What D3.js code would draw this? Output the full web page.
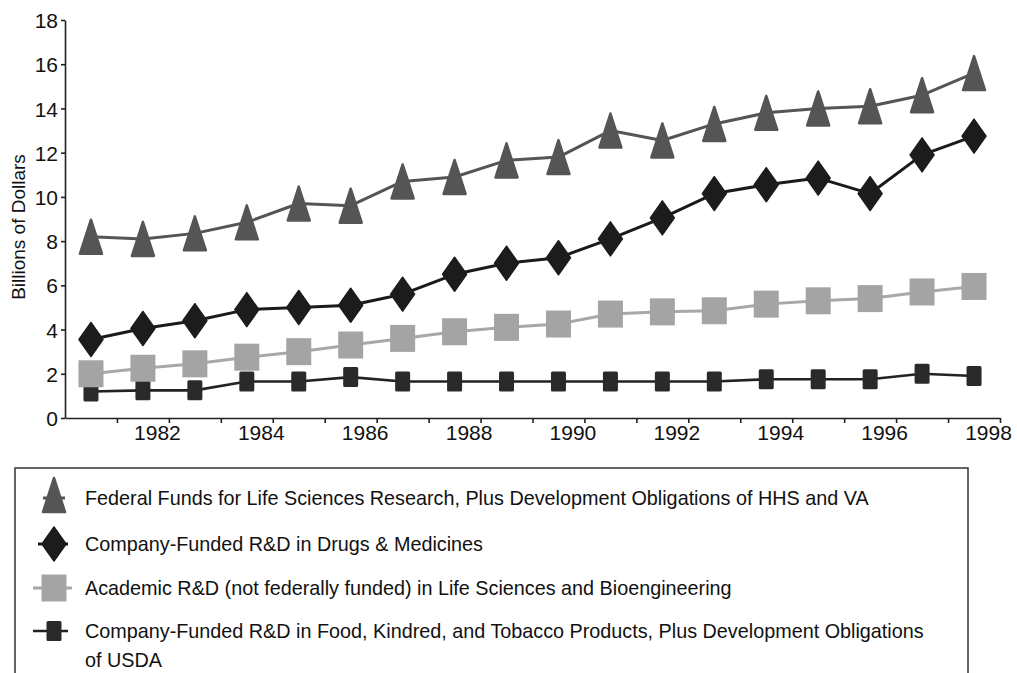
<!DOCTYPE html>
<html>
<head>
<meta charset="utf-8">
<script src="https://cdn.jsdelivr.net/npm/d3@7"></script>
<style>
  html, body { margin: 0; padding: 0; background: #fff; }
  svg { display: block; font-family: "Liberation Sans", Arial, Helvetica, sans-serif; }
  .axis text { font-size: 21px; fill: #111; }
  .axis path, .axis line { stroke: #222; stroke-width: 1.6; }
  .legend-text { font-size: 19.8px; fill: #111; }
</style>
</head>
<body>
<svg id="chart" width="1017" height="673"></svg>
<script>
// years the values belong to (plotted in the middle of each year slot)
const years = [1981, 1982, 1983, 1984, 1985, 1986, 1987, 1988, 1989, 1990, 1991, 1992, 1993, 1994, 1995, 1996, 1997, 1998];

// billions of dollars
const federalFunds = [8.2, 8.1, 8.35, 8.85, 9.7, 9.6, 10.7, 10.9, 11.65, 11.8, 13.0, 12.55, 13.3, 13.8, 14.0, 14.1, 14.6, 15.6];
const drugsMedicines = [3.55, 4.05, 4.4, 4.9, 5.0, 5.1, 5.6, 6.5, 7.0, 7.25, 8.1, 9.05, 10.15, 10.55, 10.85, 10.15, 11.9, 12.75];
const academicRD = [2.0, 2.25, 2.45, 2.75, 3.0, 3.3, 3.6, 3.9, 4.1, 4.25, 4.7, 4.8, 4.85, 5.15, 5.3, 5.4, 5.7, 5.95];
const foodTobacco = [1.2, 1.25, 1.25, 1.65, 1.65, 1.85, 1.65, 1.65, 1.65, 1.65, 1.65, 1.65, 1.65, 1.75, 1.75, 1.75, 2.0, 1.9];

const yTicks = [0, 2, 4, 6, 8, 10, 12, 14, 16, 18];
const xTickYears = [1981, 1982, 1983, 1984, 1985, 1986, 1987, 1988, 1989, 1990, 1991, 1992, 1993, 1994, 1995, 1996, 1997, 1998];

const legendLabels = [
    ["Federal Funds for Life Sciences Research, Plus Development Obligations of HHS and VA"],
    ["Company-Funded R&D in Drugs & Medicines"],
    ["Academic R&D (not federally funded) in Life Sciences and Bioengineering"],
    ["Company-Funded R&D in Food, Kindred, and Tobacco Products, Plus Development Obligations", "of USDA"]
];

const config = {
    plot: { left: 65, right: 1000, top: 20, bottom: 418 },
    colors: { federal: "#555555", drugs: "#1c1c1c", academic: "#a4a4a4", food: "#2a2a2a" }
};

const symbols = {
    triangle: "M0,-17 L11,17 L-11,17 Z",
    diamond: "M0,-17 L12,0 L0,17 L-12,0 Z",
    bigSquare: "M-12.5,-13.5 L12.5,-13.5 L12.5,13.5 L-12.5,13.5 Z",
    smallSquare: "M-6,-8.5 L6,-8.5 L6,8.5 L-6,8.5 Z"
};

const series = [
    { values: foodTobacco, color: config.colors.food, line: "#222", width: 2.6, shape: "smallSquare", round: 3, legendLine: [33, 68] },
    { values: academicRD, color: config.colors.academic, line: "#a8a8a8", width: 3, shape: "bigSquare", round: 0, legendLine: [33, 72] },
    { values: drugsMedicines, color: config.colors.drugs, line: "#1a1a1a", width: 3, shape: "diamond", round: 1.5, legendLine: [38, 68] },
    { values: federalFunds, color: config.colors.federal, line: "#555", width: 3, shape: "triangle", round: 2.5, legendLine: [43, 65] }
];

const svg = d3.select("#chart");

const x = d3.scaleLinear().domain([1980, 1998]).range([config.plot.left, config.plot.right]);
const y = d3.scaleLinear().domain([0, 18]).range([config.plot.bottom, config.plot.top]);

// axes
svg.append("g").attr("class", "axis").attr("transform", `translate(${config.plot.left},0)`)
    .call(d3.axisLeft(y).tickValues(yTicks).tickSize(4).tickSizeOuter(0).tickPadding(3))
    .call(g => g.selectAll("text").attr("dy", "0.36em"));

svg.append("g").attr("class", "axis").attr("transform", `translate(0,${config.plot.bottom})`)
    .call(d3.axisBottom(x).tickValues(xTickYears).tickSize(5).tickSizeOuter(0).tickPadding(2)
        .tickFormat(d => d % 2 === 0 ? d : ""))
    .call(g => g.selectAll("text").attr("dx", -12));

svg.append("text")
    .attr("transform", `translate(25,${(config.plot.top + config.plot.bottom) / 2 + 8}) rotate(-90)`)
    .attr("text-anchor", "middle").style("font-size", "19px").attr("fill", "#111")
    .text("Billions of Dollars");

// lines + markers
const line = d3.line().x((d, i) => x(years[i] - 0.5)).y(d => y(d));

series.forEach(s => {
    svg.append("path").datum(s.values)
        .attr("d", line).attr("fill", "none")
        .attr("stroke", s.line).attr("stroke-width", s.width).attr("stroke-linejoin", "round");

    svg.append("g").selectAll("path").data(s.values).enter().append("path")
        .attr("d", symbols[s.shape])
        .attr("transform", (d, i) => `translate(${x(years[i] - 0.5)},${y(d)})`)
        .attr("fill", s.color)
        .attr("stroke", s.round ? s.color : "none").attr("stroke-width", s.round).attr("stroke-linejoin", "round");
});

// legend
const legend = svg.append("g");
legend.append("rect")
    .attr("x", 15).attr("y", 468).attr("width", 953).attr("height", 240)
    .attr("fill", "none").attr("stroke", "#333").attr("stroke-width", 1.5);

const legendOrder = [series[3], series[2], series[1], series[0]];
const rowBase = [505, 551, 595, 638];

legendOrder.forEach((s, i) => {
    const cy = rowBase[i] - 7;
    legend.append("line")
        .attr("x1", s.legendLine[0]).attr("x2", s.legendLine[1]).attr("y1", cy).attr("y2", cy)
        .attr("stroke", s.line).attr("stroke-width", s.width);
    legend.append("path")
        .attr("d", symbols[s.shape])
        .attr("transform", `translate(54,${s.shape === "triangle" ? cy - 3 : cy})`)
        .attr("fill", s.color)
        .attr("stroke", s.round ? s.color : "none").attr("stroke-width", s.round).attr("stroke-linejoin", "round");
    const t = legend.append("text").attr("class", "legend-text").attr("x", 85).attr("y", rowBase[i]);
    legendLabels[i].forEach((str, j) => {
        t.append("tspan").attr("x", 85).attr("dy", j === 0 ? 0 : 29).text(str);
    });
});
</script>
</body>
</html>
